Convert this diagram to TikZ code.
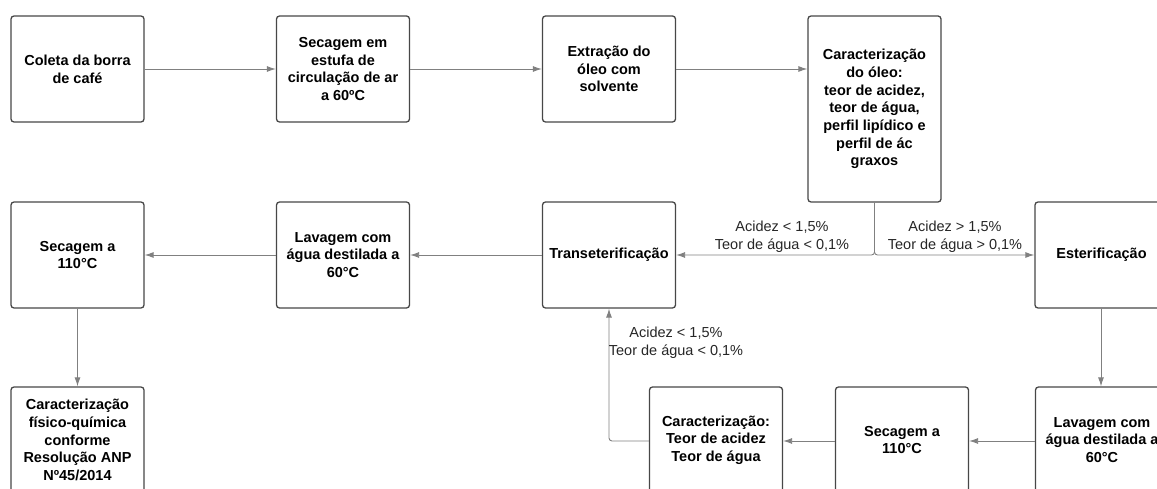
\documentclass[tikz,border=0pt]{standalone}
\usepackage{fontspec}
\setmainfont{Liberation Sans}
\usetikzlibrary{arrows.meta}

\begin{document}
\begin{tikzpicture}[x=1pt,y=-1pt,
	etapa/.style={draw=black!72, line width=1.3pt, rounded corners=3pt, fill=white,
		minimum width=133pt, minimum height=106pt, align=center, inner sep=2pt,
		font=\fontsize{14.5}{17.7}\selectfont\bfseries},
	seta/.style={draw=black!50, line width=0.9pt, rounded corners=3pt, -{Latex[length=9pt,width=6pt]}},
	cond/.style={align=center, inner sep=0pt, text=black!85, font=\fontsize{14.5}{17.7}\selectfont}]
			%%%%% START %%%%%
			\useasboundingbox (0, 0) rectangle (1157, 489);
			
			% primeira linha
			\node[etapa] (coleta) at (77.5, 69) {Coleta da borra\\de café};
			\node[etapa] (estufa) at (343, 69) {Secagem em\\estufa de\\circulação de ar\\a 60ºC};
			\node[etapa] (extracao) at (609, 69) {Extração do\\óleo com\\solvente};
			\node[etapa, minimum height=186pt] (caroleo) at (874.5, 109) {Caracterização\\do óleo:\\teor de acidez,\\teor de água,\\perfil lipídico e\\perfil de ác\\graxos};
			
			% segunda linha
			\node[etapa] (secagemA) at (77.5, 255) {Secagem a\\110°C};
			\node[etapa] (lavagemA) at (343, 255) {Lavagem com\\água destilada a\\60°C};
			\node[etapa] (trans) at (609, 255) {Transeterificação};
			\node[etapa] (ester) at (1101.5, 255) {Esterificação};
			
			% terceira linha
			\node[etapa] (carfq) at (77.5, 440) {Caracterização\\físico-química\\conforme\\Resolução ANP\\Nº45/2014};
			\node[etapa] (carB) at (716, 440) {Caracterização:\\Teor de acidez\\Teor de água};
			\node[etapa] (secagemB) at (902, 440) {Secagem a\\110°C};
			\node[etapa] (lavagemB) at (1102, 440) {Lavagem com\\água destilada a\\60°C};
			
			% setas
			\draw[seta] (coleta) -- (estufa);
			\draw[seta] (estufa) -- (extracao);
			\draw[seta] (extracao.east |- coleta.east) -- (caroleo.west |- coleta.east);
			\draw[seta] (caroleo.south) |- (trans.east);
			\draw[seta] (caroleo.south) |- (ester.west);
			\draw[seta] (trans) -- (lavagemA);
			\draw[seta] (lavagemA) -- (secagemA);
			\draw[seta] (secagemA) -- (carfq);
			\draw[seta] (ester.south -| 1101, 0) -- (lavagemB.north -| 1101, 0);
			\draw[seta] (lavagemB.west |- 0, 441) -- (secagemB.east |- 0, 441);
			\draw[seta] (secagemB.west |- 0, 441) -- (carB.east |- 0, 441);
			\draw[seta] (carB.west |- 0, 441) -| (trans.south);
			
			% condicoes
			\node[cond] (condL) at (782, 237) {Acidez < 1,5\%\\Teor de água < 0,1\%};
			\node[cond] (condR) at (955, 237) {Acidez > 1,5\%\\Teor de água > 0,1\%};
			\node[cond] (condB) at (676, 343) {Acidez < 1,5\%\\Teor de água < 0,1\%};
			%%%%% END %%%%%
\end{tikzpicture}
\end{document}
